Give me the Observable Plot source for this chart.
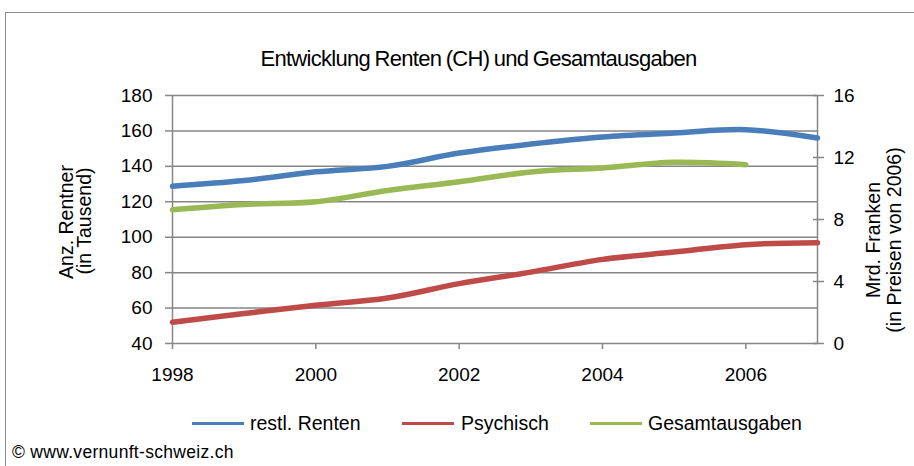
<!DOCTYPE html>
<html>
<head>
<meta charset="utf-8">
<script src="https://cdn.jsdelivr.net/npm/d3@7"></script>
<script src="https://cdn.jsdelivr.net/npm/@observablehq/plot@0.6"></script>
<style>
  html, body { margin: 0; padding: 0; background: #fff; }
  #wrap { position: relative; width: 914px; height: 466px; overflow: hidden; font-family: "Liberation Sans", Arial, sans-serif; color: #000; }
  #frame { position: absolute; left: 5px; top: 12px; width: 1000px; height: 600px; border-left: 1.5px solid #8c8c8c; border-top: 1.5px solid #8c8c8c; }
  #title { position: absolute; left: 0; width: 957px; top: 46px; text-align: center; font-size: 22px; letter-spacing: -0.7px; word-spacing: -1px; white-space: nowrap; line-height: 26px; }
  .ytitle { position: absolute; font-size: 19.5px; white-space: nowrap; transform: translate(-50%, -50%) rotate(-90deg); line-height: 1; }
  #chart { position: absolute; left: 0; top: 0; }
  .leg { position: absolute; top: 412px; font-size: 19.5px; white-space: nowrap; line-height: 22px; }
  .sw { position: absolute; top: 422px; height: 3px; }
  #copy { position: absolute; left: 12px; top: 442px; font-size: 17.5px; letter-spacing: 0.3px; white-space: nowrap; line-height: 20px; }
</style>
</head>
<body>
<div id="wrap">
  <div id="frame"></div>
  <div id="title">Entwicklung Renten (CH) und Gesamtausgaben</div>
  <div id="chart"></div>
  <div class="ytitle" style="left:67px; top:222px;">Anz. Rentner</div>
  <div class="ytitle" style="left:85px; top:221px;">(in Tausend)</div>
  <div class="ytitle" style="left:874px; top:240px;">Mrd. Franken</div>
  <div class="ytitle" style="left:895px; top:240px;">(in Preisen von 2006)</div>
  <div id="legend"></div>
  <div id="copy">© www.vernunft-schweiz.ch</div>
</div>
<script>
// ---- data ----
const years = [1998, 1999, 2000, 2001, 2002, 2003, 2004, 2005, 2006, 2007];
const restlRenten = [128.8, 132.0, 136.9, 140.0, 147.5, 152.6, 156.6, 158.8, 160.7, 156.0];
const psychisch = [52.0, 56.9, 61.6, 65.7, 73.8, 80.3, 87.5, 91.6, 95.8, 96.9];
const gesamtYears = [1998, 1999, 2000, 2001, 2002, 2003, 2004, 2005, 2006];
const gesamtausgaben = [8.63, 8.97, 9.14, 9.87, 10.43, 11.07, 11.33, 11.69, 11.54];
const leftTicks = [40, 60, 80, 100, 120, 140, 160, 180];
const rightTicks = [0, 4, 8, 12, 16];
const xTicks = [1998, 2000, 2002, 2004, 2006];
const seriesNames = ["restl. Renten", "Psychisch", "Gesamtausgaben"];
const seriesColors = ["#4A7EBB", "#BE4B48", "#98B954"];

// right axis (Mrd. Franken, 0..16) maps onto left axis (40..180)
const leftMin = 40, leftMax = 180, rightMin = 0, rightMax = 16;
const toLeft = v => leftMin + (v - rightMin) * (leftMax - leftMin) / (rightMax - rightMin);
const toRight = v => rightMin + (v - leftMin) * (rightMax - rightMin) / (leftMax - leftMin);

const rows = [];
years.forEach((y, i) => rows.push({year: y, value: restlRenten[i], series: seriesNames[0]}));
years.forEach((y, i) => rows.push({year: y, value: psychisch[i], series: seriesNames[1]}));
gesamtYears.forEach((y, i) => rows.push({year: y, value: toLeft(gesamtausgaben[i]), series: seriesNames[2]}));

const axisColor = "#868686";

const chart = Plot.plot({
  width: 914,
  height: 466,
  marginLeft: 172,
  marginRight: 97,
  marginTop: 95,
  marginBottom: 123,
  x: {domain: [1998, 2007]},
  y: {domain: [leftMin, leftMax]},
  color: {domain: seriesNames, range: seriesColors},
  style: {fontFamily: "'Liberation Sans', Arial, sans-serif", fontSize: "19px", color: "#000", background: "transparent", overflow: "visible"},
  marks: [
    Plot.gridY(leftTicks, {stroke: axisColor, strokeOpacity: 1, strokeWidth: 1.5}),
    Plot.ruleX([1998, 2007], {stroke: axisColor, strokeWidth: 1.5}),
    Plot.axisY(leftTicks, {anchor: "left", tickSize: 7, tickPadding: 13, stroke: axisColor, strokeWidth: 1.5, fill: "#000", label: null}),
    Plot.axisY(rightTicks.map(toLeft), {anchor: "right", tickSize: 6, tickPadding: 10, stroke: axisColor, strokeWidth: 1.5, fill: "#000", label: null, tickFormat: d => String(Math.round(toRight(d)))}),
    Plot.axisY(rightTicks.map(toLeft), {anchor: "right", tickSize: 5, dx: -5, stroke: axisColor, strokeWidth: 1.5, text: null, label: null}),
    Plot.axisX(xTicks, {anchor: "bottom", tickSize: 6, tickPadding: 18, stroke: axisColor, strokeWidth: 1.5, fill: "#000", label: null, tickFormat: d => String(d)}),
    Plot.lineY(rows, {x: "year", y: "value", stroke: "series", z: "series", strokeWidth: 5.5, curve: "catmull-rom", strokeLinecap: "round", strokeLinejoin: "round"})
  ]
});
document.getElementById("chart").appendChild(chart);

// legend
const legend = document.getElementById("legend");
const legendPos = [[192, 250], [402, 461], [590, 648]];
seriesNames.forEach((name, i) => {
  const sw = document.createElement("div");
  sw.className = "sw";
  sw.style.left = legendPos[i][0] + "px";
  sw.style.width = "52px";
  sw.style.background = seriesColors[i];
  legend.appendChild(sw);
  const t = document.createElement("div");
  t.className = "leg";
  t.style.left = legendPos[i][1] + "px";
  t.textContent = name;
  legend.appendChild(t);
});
</script>
</body>
</html>
